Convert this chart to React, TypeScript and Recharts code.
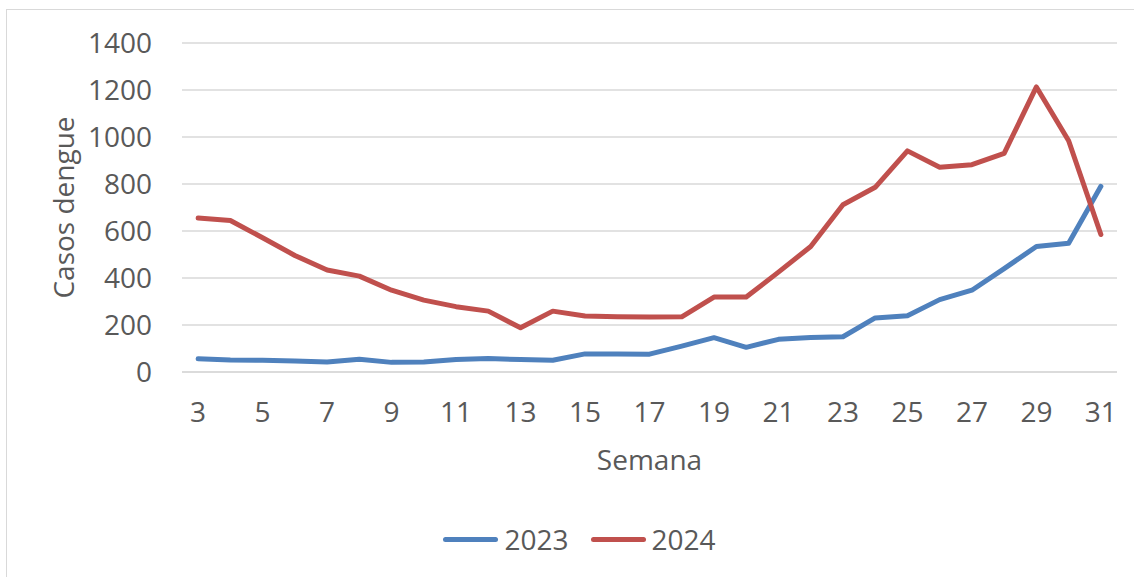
import { Legend, Line, LineChart, CartesianGrid, XAxis, YAxis } from "recharts";

const semanas = [3, 4, 5, 6, 7, 8, 9, 10, 11, 12, 13, 14, 15, 16, 17, 18, 19, 20, 21, 22, 23, 24, 25, 26, 27, 28, 29, 30, 31];
const casos2023 = [56, 51, 50, 47, 43, 54, 41, 43, 53, 57, 53, 50, 77, 77, 76, 110, 146, 105, 139, 147, 150, 230, 239, 308, 348, 440, 534, 548, 790];
const casos2024 = [655, 645, 571, 496, 434, 408, 348, 306, 278, 259, 188, 259, 238, 235, 234, 235, 319, 319, 425, 534, 712, 786, 941, 871, 882, 930, 1213, 984, 585];
const xTicks = [3, 5, 7, 9, 11, 13, 15, 17, 19, 21, 23, 25, 27, 29, 31];
const yTicks = [0, 200, 400, 600, 800, 1000, 1200, 1400];

const series = [
  { key: "y2023", label: "2023", color: "#4F81BD" },
  { key: "y2024", label: "2024", color: "#C0504D" },
];

const data = semanas.map((semana, i) => ({
  semana,
  y2023: casos2023[i],
  y2024: casos2024[i],
}));

const FONT = "'Open Sans', 'Liberation Sans', sans-serif";
const TEXT = "#595959";

function ChartLegend() {
  return (
    <div
      style={{
        height: 40,
        display: "flex",
        alignItems: "center",
        justifyContent: "center",
        paddingLeft: 42,
        fontFamily: FONT,
        fontSize: 28,
        color: TEXT,
        gap: 22,
      }}
    >
      {series.map((s) => (
        <div key={s.key} style={{ display: "flex", alignItems: "center", gap: 6 }}>
          <span
            style={{
              display: "inline-block",
              width: 55,
              height: 5,
              borderRadius: 3,
              background: s.color,
            }}
          />
          <span>{s.label}</span>
        </div>
      ))}
    </div>
  );
}

export default function App() {
  return (
    <div
      style={{
        position: "absolute",
        left: 0,
        top: 0,
        width: 1134,
        height: 577,
        overflow: "hidden",
        background: "#fff",
      }}
    >
      <div
        style={{
          position: "absolute",
          left: 6,
          top: 9,
          width: 1200,
          height: 700,
          border: "1px solid #d9d9d9",
        }}
      />
      <LineChart
        width={1134}
        height={577}
        data={data}
        margin={{ top: 43, right: 17, left: 0, bottom: 18 }}
      >
        <CartesianGrid vertical={false} stroke="#d9d9d9" strokeWidth={1.5} />
        <XAxis
          dataKey="semana"
          type="number"
          domain={[2.5, 31.5]}
          ticks={xTicks}
          interval={0}
          height={147}
          axisLine={{ stroke: "#d9d9d9", strokeWidth: 1.5 }}
          tickLine={false}
          tickSize={0}
          tickMargin={30}
          tick={{ fill: TEXT, fontSize: 28, fontFamily: FONT }}
          label={{
            value: "Semana",
            position: "insideTop",
            offset: 78,
            fill: TEXT,
            fontSize: 28,
            fontFamily: FONT,
          }}
        />
        <YAxis
          domain={[0, 1400]}
          ticks={yTicks}
          width={182}
          axisLine={false}
          tickLine={false}
          tickSize={0}
          tickMargin={30}
          tick={{ fill: TEXT, fontSize: 28, fontFamily: FONT }}
          label={{
            value: "Casos dengue",
            angle: -90,
            position: "insideLeft",
            offset: 64,
            fill: TEXT,
            fontSize: 28,
            fontFamily: FONT,
            style: { textAnchor: "middle" },
          }}
        />
        <Legend verticalAlign="bottom" content={() => <ChartLegend />} />
        {series.map((s) => (
          <Line
            key={s.key}
            type="linear"
            dataKey={s.key}
            name={s.label}
            stroke={s.color}
            strokeWidth={5}
            strokeLinecap="round"
            strokeLinejoin="round"
            dot={false}
            activeDot={false}
            isAnimationActive={false}
          />
        ))}
      </LineChart>
    </div>
  );
}
